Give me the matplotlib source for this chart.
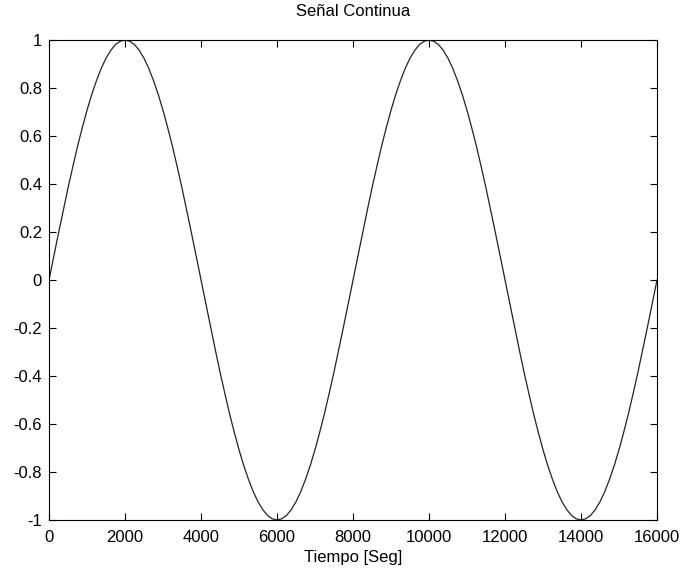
import matplotlib
matplotlib.use("Agg")
import matplotlib.pyplot as plt

plt.rcParams['font.family'] = ['Liberation Sans', 'DejaVu Sans']

# Time samples (s), every 125 s
t = list(range(0, 16001, 125))
# Signal amplitude at each sample
half_up = [0.000, 0.098, 0.195, 0.290, 0.383, 0.471, 0.556, 0.634, 0.707, 0.773,
           0.831, 0.882, 0.924, 0.957, 0.981, 0.995, 1.000, 0.995, 0.981, 0.957,
           0.924, 0.882, 0.831, 0.773, 0.707, 0.634, 0.556, 0.471, 0.383, 0.290,
           0.195, 0.098]
half_down = [0.000, -0.098, -0.195, -0.290, -0.383, -0.471, -0.556, -0.634, -0.707, -0.773,
             -0.831, -0.882, -0.924, -0.957, -0.981, -0.995, -1.000, -0.995, -0.981, -0.957,
             -0.924, -0.882, -0.831, -0.773, -0.707, -0.634, -0.556, -0.471, -0.383, -0.290,
             -0.195, -0.098]
y = half_up + half_down + half_up + half_down + [0.000]

xticks = [0, 2000, 4000, 6000, 8000, 10000, 12000, 14000, 16000]
yticks = [-1, -0.8, -0.6, -0.4, -0.2, 0, 0.2, 0.4, 0.6, 0.8, 1]
yticklabels = ['-1', '-0.8', '-0.6', '-0.4', '-0.2', '0', '0.2', '0.4', '0.6', '0.8', '1']

fig = plt.figure(figsize=(6.82, 5.71), dpi=100)
ax = fig.add_axes([49/682, 1-520/571, (657-49)/682, (520-40)/571])
ax.plot(t, y, color='#222222', lw=0.9)
ax.set_xlim(0, 16000)
ax.set_ylim(-1, 1)
ax.set_xticks(xticks)
ax.set_xticklabels([str(v) for v in xticks])
ax.set_yticks(yticks)
ax.set_yticklabels(yticklabels)
ax.tick_params(direction='in', length=5, width=0.8, labelsize=12, top=True, right=True)
ax.tick_params(axis='x', pad=7)
ax.tick_params(axis='y', pad=5)
for s in ax.spines.values():
    s.set_linewidth(0.8)
ax.set_title('Señal Continua', fontsize=12, pad=17)
ax.set_xlabel('Tiempo [Seg]', fontsize=12, labelpad=4)
fig.savefig('out.png', dpi=100)
